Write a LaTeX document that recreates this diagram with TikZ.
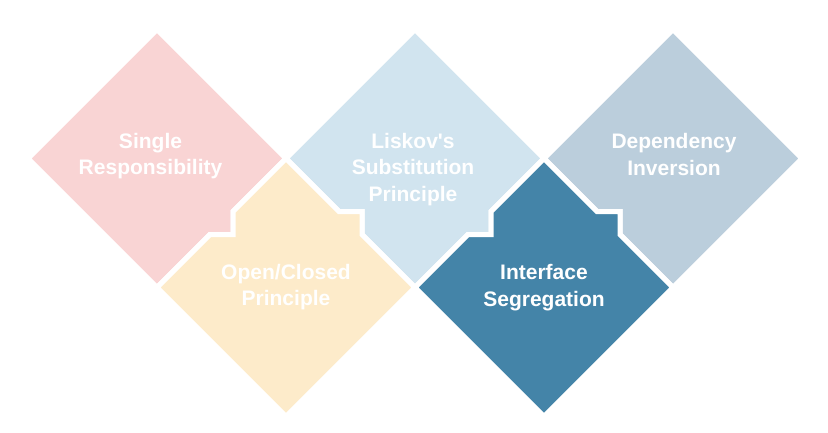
\documentclass[tikz,border=0pt]{standalone}
\usepackage{fontspec}
\setmainfont{Liberation Sans}
\definecolor{srpink}{HTML}{F9D4D4}
\definecolor{ocyellow}{HTML}{FDEBCA}
\definecolor{lsblue}{HTML}{D1E4EF}
\definecolor{isblue}{HTML}{4484A8}
\definecolor{digrey}{HTML}{BBCEDC}
\begin{document}
\begin{tikzpicture}[x=1pt,y=-1pt,
  tile/.style={draw=white,line width=5pt,line join=miter},
  caption/.style={text=white,font=\fontsize{21}{26.5}\selectfont\bfseries,
    align=center,inner sep=0pt,anchor=north}]
\useasboundingbox (0,0) rectangle (828,432);
% Single Responsibility: tab on the lower-right edge
\path[tile,fill=srpink] (157,29.5) -- (286,158.5) -- (233,211.5) -- (233,234.5)
  -- (210,234.5) -- (157,287.5) -- (28,158.5) -- cycle;
% Liskov's Substitution: notch lower-left, tab lower-right
\path[tile,fill=lsblue] (415,29.5) -- (544,158.5) -- (491,211.5) -- (491,234.5)
  -- (468,234.5) -- (415,287.5) -- (362,234.5) -- (362,211.5) -- (339,211.5)
  -- (286,158.5) -- cycle;
% Dependency Inversion: notch lower-left
\path[tile,fill=digrey] (673,29.5) -- (802,158.5) -- (673,287.5) -- (620,234.5)
  -- (620,211.5) -- (597,211.5) -- (544,158.5) -- cycle;
% Open/Closed: notch upper-left, tab upper-right
\path[tile,fill=ocyellow] (286,158.5) -- (339,211.5) -- (362,211.5) -- (362,234.5)
  -- (415,287.5) -- (286,416.5) -- (157,287.5) -- (210,234.5) -- (233,234.5)
  -- (233,211.5) -- cycle;
% Interface Segregation: notch upper-left, tab upper-right
\path[tile,fill=isblue] (544,158.5) -- (597,211.5) -- (620,211.5) -- (620,234.5)
  -- (673,287.5) -- (544,416.5) -- (415,287.5) -- (468,234.5) -- (491,234.5)
  -- (491,211.5) -- cycle;
% captions
\node[caption] (sr) at (150.5,132.8) {Single\\Responsibility};
\node[caption] (ls) at (413,132.8) {Liskov\textquotesingle s\\Substitution\\Principle};
\node[caption] (di) at (674,133.5) {Dependency\\Inversion};
\node[caption] (oc) at (286,264) {Open/Closed\\Principle};
\node[caption] (is) at (544,264.5) {Interface\\Segregation};
\end{tikzpicture}
\end{document}
